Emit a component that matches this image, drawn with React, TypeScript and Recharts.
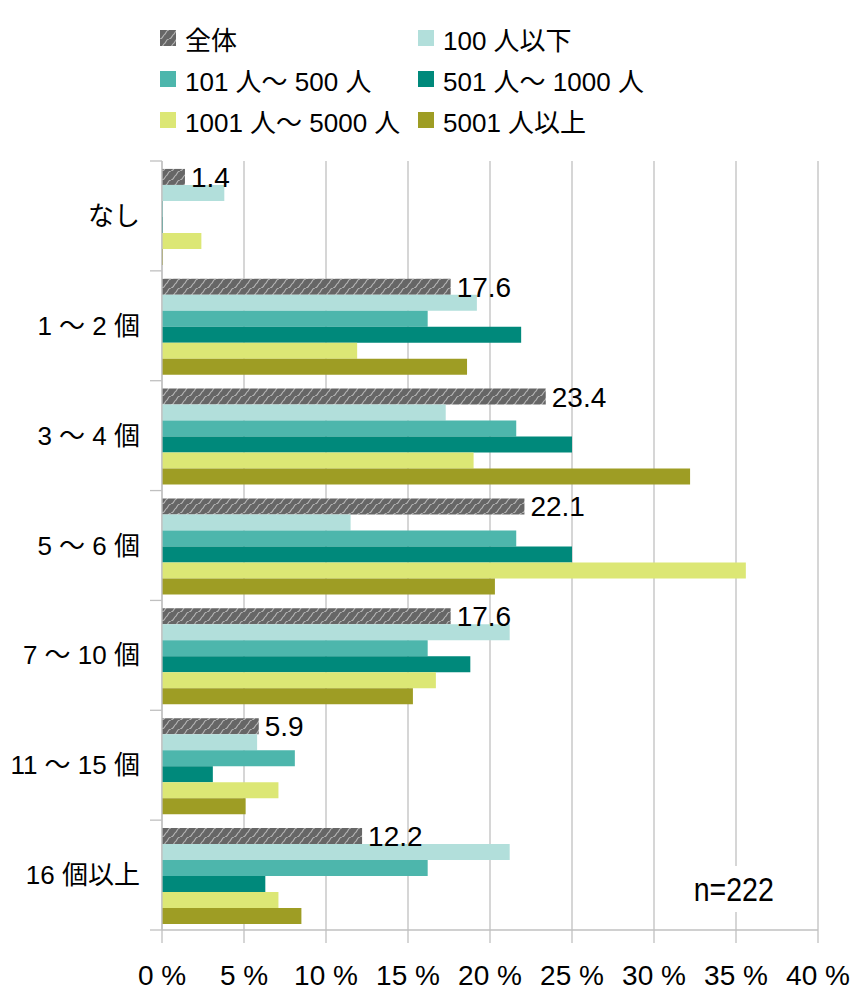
import React from "react";
import { BarChart, Bar, XAxis, YAxis, CartesianGrid, LabelList } from "recharts";

const categories = ["なし", "1 ～ 2 個", "3 ～ 4 個", "5 ～ 6 個", "7 ～ 10 個", "11 ～ 15 個", "16 個以上"];
const zentai = [1.4, 17.6, 23.4, 22.1, 17.6, 5.9, 12.2];
const upTo100 = [3.8, 19.2, 17.3, 11.5, 21.2, 5.8, 21.2];
const from101 = [0, 16.2, 21.6, 21.6, 16.2, 8.1, 16.2];
const from501 = [0, 21.9, 25.0, 25.0, 18.8, 3.1, 6.3];
const from1001 = [2.4, 11.9, 19.0, 35.6, 16.7, 7.1, 7.1];
const over5001 = [0, 18.6, 32.2, 20.3, 15.3, 5.1, 8.5];
const xTicks = [0, 5, 10, 15, 20, 25, 30, 35, 40];

const series = [
  { key: "all", name: "全体", values: zentai, fill: "url(#hatch)" },
  { key: "s100", name: "100 人以下", values: upTo100, fill: "#b2dfdb" },
  { key: "s101", name: "101 人～ 500 人", values: from101, fill: "#4db6ac" },
  { key: "s501", name: "501 人～ 1000 人", values: from501, fill: "#00897b" },
  { key: "s1001", name: "1001 人～ 5000 人", values: from1001, fill: "#dce775" },
  { key: "s5001", name: "5001 人以上", values: over5001, fill: "#9e9d24" },
];

const data = categories.map((cat, i) => {
  const row: Record<string, string | number> = { cat };
  for (const s of series) row[s.key] = s.values[i];
  return row;
});

const FONT = '"Liberation Sans", "Noto Sans CJK JP", sans-serif';
const W = 864;
const H = 1004;
const TOP = 161;
const AXIS_X = 162;
const X_AXIS_H = 74;
const BAND = (H - TOP - X_AXIS_H) / categories.length;
const GRID = "#c0c0c0";

function HatchDef({ id }: { id: string }) {
  return (
    <pattern id={id} patternUnits="userSpaceOnUse" width="9" height="9">
      <rect width="9" height="9" fill="#666666" />
      <path d="M0,9 C3,9 3,5 4.5,4.5 C6,4 6,0 9,0" stroke="#b4b4b4" strokeWidth="1.1" fill="none" />
    </pattern>
  );
}

function CatTick(props: any) {
  const { y, payload, index } = props;
  const top = y - BAND / 2;
  const bottom = y + BAND / 2;
  return (
    <g>
      <line x1={AXIS_X - 12} x2={AXIS_X} y1={top} y2={top} stroke={GRID} strokeWidth={1.3} />
      {index === categories.length - 1 && (
        <line x1={AXIS_X - 12} x2={AXIS_X} y1={bottom} y2={bottom} stroke={GRID} strokeWidth={1.3} />
      )}
      <text x={140} y={y} dy="0.35em" textAnchor="end" fontSize={26} fill="#000" fontFamily={FONT}>
        {payload.value}
      </text>
    </g>
  );
}

function LegendBox() {
  const cols = [160, 418];
  const rows = [38, 79, 120];
  return (
    <>
      {series.map((s, i) => {
        const left = cols[i % 2];
        const cy = rows[Math.floor(i / 2)];
        return (
          <div key={s.key} style={{ position: "absolute", left, top: cy - 20, height: 40, display: "flex", alignItems: "center", fontFamily: FONT, fontSize: 26, color: "#000", whiteSpace: "nowrap" }}>
            <svg width={16} height={16} style={{ marginRight: 9 }}>
              <defs><HatchDef id="hatchLegend" /></defs>
              <rect width={16} height={16} fill={s.key === "all" ? "url(#hatchLegend)" : s.fill} />
            </svg>
            <span>{s.name}</span>
          </div>
        );
      })}
    </>
  );
}

export default function App() {
  return (
    <div style={{ position: "absolute", left: 0, top: 0, width: W, height: H, background: "#fff" }}>
      <LegendBox />
      <BarChart
        width={W}
        height={H}
        data={data}
        layout="vertical"
        margin={{ top: TOP, right: W - 818, bottom: 0, left: 0 }}
        barCategoryGap="7.2%"
        barGap={0}
      >
        <defs><HatchDef id="hatch" /></defs>
        <CartesianGrid horizontal={false} stroke={GRID} strokeWidth={1.3} />
        <XAxis
          type="number"
          domain={[0, 40]}
          ticks={xTicks}
          height={X_AXIS_H}
          tickFormatter={(v) => `${v} %`}
          tick={{ fontSize: 28, fill: "#000", fontFamily: FONT }}
          axisLine={{ stroke: GRID, strokeWidth: 1.3 }}
          tickLine={{ stroke: GRID, strokeWidth: 1.3 }}
          tickSize={13}
          tickMargin={22}
          interval={0}
        />
        <YAxis
          type="category"
          dataKey="cat"
          width={AXIS_X}
          axisLine={{ stroke: GRID, strokeWidth: 1.3 }}
          tickLine={false}
          tick={<CatTick />}
          interval={0}
        />
        {series.map((s) => (
          <Bar key={s.key} dataKey={s.key} name={s.name} fill={s.fill} minPointSize={1} isAnimationActive={false}>
            {s.key === "all" && (
              <LabelList dataKey="all" position="right" offset={6} fontSize={28} fill="#000" fontFamily={FONT} />
            )}
          </Bar>
        ))}
      </BarChart>
      <div style={{ position: "absolute", left: 686, top: 866, width: 90, height: 46, background: "#fff", fontFamily: FONT, fontSize: 34, lineHeight: "46px", textAlign: "center", color: "#000" }}>
        <span style={{ display: "inline-block", transform: "scaleX(0.84)" }}>n=222</span>
      </div>
    </div>
  );
}
